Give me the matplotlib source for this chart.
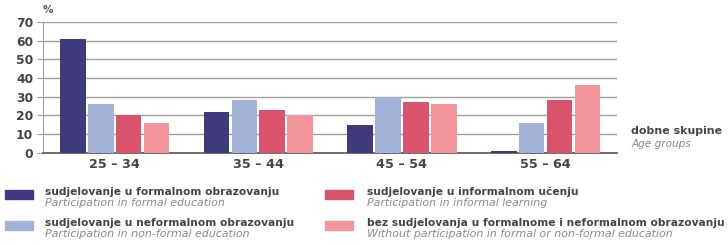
import numpy as np
import matplotlib
matplotlib.use("Agg")
import matplotlib.pyplot as plt
from matplotlib.patches import Rectangle

groups = ["25 – 34", "35 – 44", "45 – 54", "55 – 64"]
formal = [61, 22, 15, 1]
nonformal = [26, 28, 30, 16]
informal = [20, 23, 27, 28]
none_ = [16, 20, 26, 36]

series = [formal, nonformal, informal, none_]
colors = ["#3e3a7c", "#a3b3d8", "#d9536b", "#f2969b"]
names_hr = ["sudjelovanje u formalnom obrazovanju",
            "sudjelovanje u neformalnom obrazovanju",
            "sudjelovanje u informalnom učenju",
            "bez sudjelovanja u formalnome i neformalnom obrazovanju"]
names_en = ["Participation in formal education",
            "Participation in non-formal education",
            "Participation in informal learning",
            "Without participation in formal or non-formal education"]

plt.rcParams['font.family'] = ['DejaVu Sans']
fig = plt.figure(figsize=(7.28, 2.45), dpi=100)
ax = fig.add_axes([0.059, 0.376, 0.789, 0.535])

x = np.arange(len(groups))
step = 0.194
for i, vals in enumerate(series):
    ax.bar(x + (i - 1.5) * step, vals, width=0.178, color=colors[i], zorder=3)

ax.set_xlim(-0.5, 3.5)
ax.set_ylim(0, 70)
ax.set_yticks(range(0, 71, 10))
ax.yaxis.grid(True, color="#a0a0a0", linewidth=1.0, zorder=0)
for s in ["top", "right"]:
    ax.spines[s].set_visible(False)
ax.spines["left"].set_color("#a0a0a0")
ax.spines["bottom"].set_color("#555555")
ax.spines["bottom"].set_linewidth(1.2)
ax.tick_params(axis="y", length=4, color="#a0a0a0", labelsize=8.8, labelcolor="#444444", pad=3)
ax.tick_params(axis="x", length=0, labelsize=9.2, labelcolor="#444444", pad=4)
for t in ax.get_yticklabels():
    t.set_fontweight("bold")
ax.set_xticks(x)
ax.set_xticklabels(groups, fontweight="bold")

fig.text(0.058, 0.94, "%", fontsize=7.5, fontweight="bold", color="#555555", ha="left", va="bottom")
fig.text(0.867, 0.465, "dobne skupine", fontsize=7.9, fontweight="bold", color="#444444", va="center")
fig.text(0.867, 0.413, "Age groups", fontsize=7.6, style="italic", color="#888888", va="center")

# legend
px = [5 / 728, 325 / 728]
tx = [45 / 728, 367 / 728]
rows = [1 - 195 / 245, 1 - 226 / 245]
for i in range(4):
    col = i // 2
    row = i % 2
    yc = rows[row]
    fig.patches.append(Rectangle((px[col], yc - 4 / 245), 28 / 728, 9 / 245,
                                 transform=fig.transFigure, color=colors[i]))
    fig.text(tx[col], yc + 3 / 245, names_hr[i], fontsize=7.7, fontweight="bold",
             color="#444444", va="center")
    fig.text(tx[col], yc - 8 / 245, names_en[i], fontsize=7.9, style="italic",
             color="#8a8a8a", va="center")

fig.savefig("out.png", dpi=100, facecolor="white")
